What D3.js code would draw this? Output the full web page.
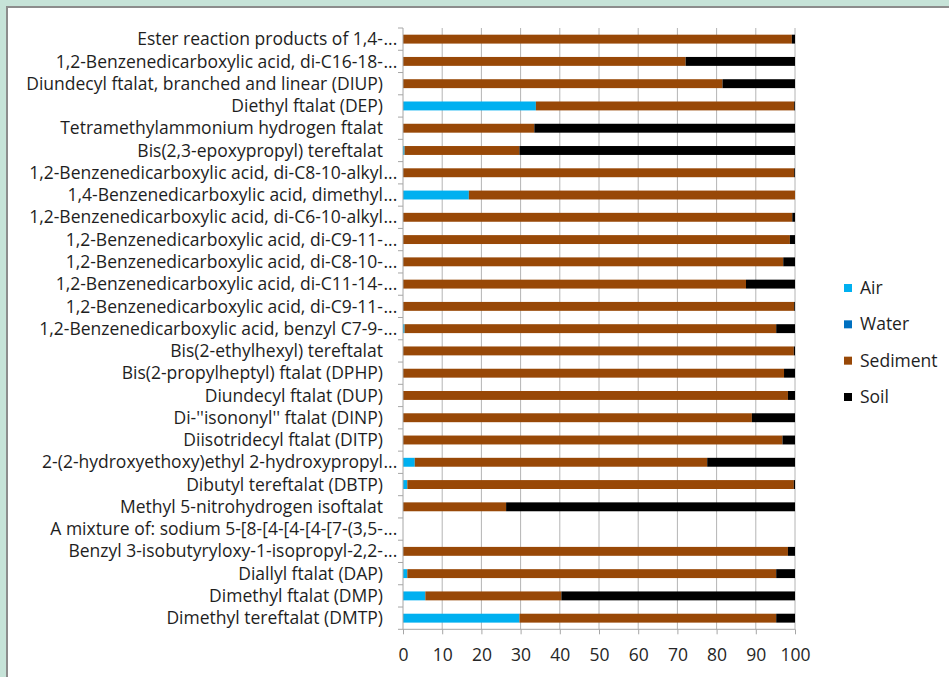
<!DOCTYPE html>
<html>
<head>
<meta charset="utf-8">
<script src="https://cdn.jsdelivr.net/npm/d3@7"></script>
<style>
  html, body { margin: 0; padding: 0; background: #c6e3d8; }
  svg { display: block; }
</style>
</head>
<body>
<script>
// Distribution of substances between environmental compartments (%)
const categories = [
  "Ester reaction products of 1,4-...",
  "1,2-Benzenedicarboxylic acid, di-C16-18-...",
  "Diundecyl ftalat, branched and linear (DIUP)",
  "Diethyl ftalat (DEP)",
  "Tetramethylammonium hydrogen ftalat",
  "Bis(2,3-epoxypropyl) tereftalat",
  "1,2-Benzenedicarboxylic acid, di-C8-10-alkyl...",
  "1,4-Benzenedicarboxylic acid, dimethyl...",
  "1,2-Benzenedicarboxylic acid, di-C6-10-alkyl...",
  "1,2-Benzenedicarboxylic acid, di-C9-11-...",
  "1,2-Benzenedicarboxylic acid, di-C8-10-...",
  "1,2-Benzenedicarboxylic acid, di-C11-14-...",
  "1,2-Benzenedicarboxylic acid, di-C9-11-... ",
  "1,2-Benzenedicarboxylic acid, benzyl C7-9-...",
  "Bis(2-ethylhexyl) tereftalat",
  "Bis(2-propylheptyl) ftalat (DPHP)",
  "Diundecyl ftalat (DUP)",
  "Di-''isononyl'' ftalat (DINP)",
  "Diisotridecyl ftalat (DITP)",
  "2-(2-hydroxyethoxy)ethyl 2-hydroxypropyl...",
  "Dibutyl tereftalat (DBTP)",
  "Methyl 5-nitrohydrogen isoftalat",
  "A mixture of: sodium 5-[8-[4-[4-[4-[7-(3,5-...",
  "Benzyl 3-isobutyryloxy-1-isopropyl-2,2-...",
  "Diallyl ftalat (DAP)",
  "Dimethyl ftalat (DMP)",
  "Dimethyl tereftalat (DMTP)"
];

const air      = [0, 0, 0, 33.9, 0, 0.4, 0, 16.8, 0, 0, 0, 0, 0, 0.4, 0, 0, 0, 0, 0, 3.0, 1.1, 0, 0, 0, 1.1, 5.7, 29.7];
const water    = [0, 0, 0, 0,    0, 0,   0, 0,    0, 0, 0, 0, 0, 0,   0, 0, 0, 0, 0, 0,   0,   0, 0, 0, 0,   0,   0];
const sediment = [99.2, 72.1, 81.5, 65.9, 33.5, 29.3, 99.8, 83.2, 99.3, 98.7, 97.0, 87.5, 99.8, 94.8, 99.7, 97.2, 98.2, 89.0, 96.8, 74.6, 98.6, 26.3, 0, 98.2, 94.1, 34.7, 65.5];
const soil     = [0.8, 27.9, 18.5, 0.2, 66.5, 70.3, 0.2, 0, 0.7, 1.3, 3.0, 12.5, 0.2, 4.8, 0.3, 2.8, 1.8, 11.0, 3.2, 22.4, 0.3, 73.7, 0, 1.8, 4.8, 59.6, 4.8];

const seriesNames = ["Air", "Water", "Sediment", "Soil"];
const xTicks = [0, 10, 20, 30, 40, 50, 60, 70, 80, 90, 100];

const colors = { Air: "#00b0f0", Water: "#0070c0", Sediment: "#984807", Soil: "#000000" };

const W = 949, H = 677;
const svg = d3.select("body").append("svg").attr("width", W).attr("height", H);

// white chart panel with grey frame
svg.append("rect").attr("x", 7).attr("y", 7).attr("width", W).attr("height", H)
  .attr("fill", "#ffffff").attr("stroke", "#8c8c8c").attr("stroke-width", 2);

const rows = categories.map((c, i) => ({
  cat: c, Air: air[i], Water: water[i], Sediment: sediment[i], Soil: soil[i]
}));

const x = d3.scaleLinear().domain([0, 100]).range([403, 795]);
const y = d3.scaleBand().domain(categories).range([28, 629.3])
  .paddingInner(0.6).paddingOuter(0.3);

const font = "'Open Sans', Lato, sans-serif";
const fontSize = 17.5;

// vertical gridlines
svg.append("g").selectAll("line").data(xTicks.slice(1)).join("line")
  .attr("x1", d => x(d)).attr("x2", d => x(d))
  .attr("y1", y.range()[0]).attr("y2", y.range()[1])
  .attr("stroke", "#b4b4b4").attr("stroke-width", 1);

// stacked bars
const stacked = d3.stack().keys(seriesNames)(rows);
svg.append("g").selectAll("g").data(stacked).join("g")
  .attr("fill", d => colors[d.key])
  .selectAll("rect").data(d => d).join("rect")
  .attr("x", d => x(d[0]))
  .attr("y", d => y(d.data.cat))
  .attr("width", d => Math.max(0, x(d[1]) - x(d[0])))
  .attr("height", y.bandwidth());

// category axis: line and boundary ticks
const step = y.step();
const y0 = y.range()[0];
const boundaries = d3.range(categories.length + 1);
const leftAxis = svg.append("g");
leftAxis.append("line")
  .attr("x1", x(0)).attr("x2", x(0))
  .attr("y1", y0).attr("y2", y.range()[1])
  .attr("stroke", "#a6a6a6").attr("stroke-width", 1);
leftAxis.selectAll("line.tick").data(boundaries).join("line")
  .attr("class", "tick")
  .attr("x1", x(0) - 5).attr("x2", x(0))
  .attr("y1", i => y0 + i * step).attr("y2", i => y0 + i * step)
  .attr("stroke", "#a6a6a6").attr("stroke-width", 1);

// category labels (truncated names keep their trailing dots past the margin)
const labelRight = 383;
const labels = svg.append("g").attr("font-family", font).attr("font-size", fontSize).attr("fill", "#1e1e1e");
labels.selectAll("text.main").data(categories).join("text")
  .attr("class", "main")
  .attr("x", labelRight)
  .attr("y", d => y(d) + y.bandwidth() / 2)
  .attr("dy", "0.35em")
  .attr("text-anchor", "end")
  .text(d => d.trim().endsWith("...") ? d.trim().slice(0, -3) : d.trim());
labels.selectAll("text.dots").data(categories.filter(d => d.trim().endsWith("..."))).join("text")
  .attr("class", "dots")
  .attr("x", labelRight + 0.5)
  .attr("y", d => y(d) + y.bandwidth() / 2)
  .attr("dy", "0.35em")
  .attr("text-anchor", "start")
  .text("...");

// value axis
const xAxis = svg.append("g")
  .attr("transform", `translate(0,${y.range()[1]})`)
  .call(d3.axisBottom(x).tickValues(xTicks).tickSize(5).tickPadding(14).tickFormat(d3.format("d")));
xAxis.select(".domain").attr("stroke", "#a6a6a6").attr("d", `M${x(0)},0H${x(100)}`);
xAxis.selectAll(".tick line").attr("stroke", "#a6a6a6");
xAxis.selectAll(".tick text").attr("font-family", font).attr("font-size", fontSize).attr("fill", "#262626");

// legend
const legend = svg.append("g").attr("font-family", font).attr("font-size", fontSize).attr("fill", "#1e1e1e");
const legendY = d3.scalePoint().domain(seriesNames).range([288, 397]);
legend.selectAll("rect").data(seriesNames).join("rect")
  .attr("x", 844).attr("y", d => legendY(d) - 4)
  .attr("width", 8).attr("height", 8)
  .attr("fill", d => colors[d]);
legend.selectAll("text").data(seriesNames).join("text")
  .attr("x", 860).attr("y", d => legendY(d))
  .attr("dy", "0.35em")
  .text(d => d);
</script>
</body>
</html>
